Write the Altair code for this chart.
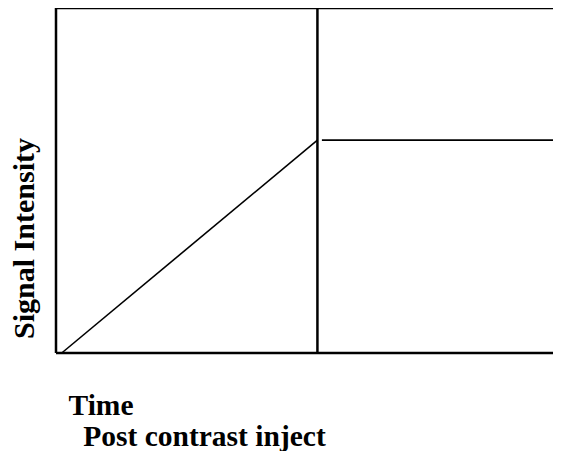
import altair as alt
import pandas as pd

# Data (arbitrary units: time 0-100, signal 0-100)
inject_time = 52.6
signal_start_time = [1.15, 53.5]
signal_end_time = [52.6, 100.0]
signal_start_value = [0.0, 61.7]
signal_end_value = [61.7, 61.7]
segment_names = ["uptake", "plateau"]

frame_x = [0.0, 0.0, 0.0, inject_time]
frame_x2 = [0.0, 100.0, 100.0, inject_time]
frame_y = [0.0, 100.0, 0.0, 0.0]
frame_y2 = [100.0, 100.0, 0.0, 100.0]

x_title = ["Time", "\u200b\u00a0\u00a0Post contrast inject"]
y_title = "Signal Intensity"

rows = []
for name, t0, t1, v0, v1 in zip(segment_names, signal_start_time, signal_end_time,
                                signal_start_value, signal_end_value):
    rows.append({"segment": name, "time": t0, "signal": v0})
    rows.append({"segment": name, "time": t1, "signal": v1})
signal_df = pd.DataFrame(rows)
frame_df = pd.DataFrame({"x": frame_x, "x2": frame_x2, "y": frame_y, "y2": frame_y2})

xs = alt.Scale(domain=[0, 100], nice=False, zero=False)
ys = alt.Scale(domain=[0, 100], nice=False, zero=False)

FONT = "Liberation Serif"

x_axis = alt.Axis(domain=False, ticks=False, labels=False, grid=False,
                  title=x_title, titleFont=FONT, titleFontSize=29.5, titleFontWeight="bold",
                  titleColor="black", titleAnchor="start", titleAlign="left",
                  titleBaseline="alphabetic", titleX=12, titleY=61, titleLineHeight=31)
y_axis = alt.Axis(domain=False, ticks=False, labels=False, grid=False,
                  title=y_title, titleFont=FONT, titleFontSize=30, titleFontWeight="bold",
                  titleColor="black", titleAngle=270, titleAlign="center",
                  titleBaseline="alphabetic", titleX=-23, titleY=230)

frame = alt.Chart(frame_df).mark_rule(color="black", strokeWidth=2.5).encode(
    x=alt.X("x:Q", scale=xs, axis=x_axis),
    x2="x2:Q",
    y=alt.Y("y:Q", scale=ys, axis=y_axis),
    y2="y2:Q",
)

signal = alt.Chart(signal_df).mark_line(color="black", strokeWidth=1.6).encode(
    x=alt.X("time:Q", scale=xs),
    y=alt.Y("signal:Q", scale=ys),
    detail="segment:N",
)

chart = alt.layer(frame, signal).properties(
    width=497, height=345,
    autosize=alt.AutoSizeParams(type="none"),
    padding={"left": 48, "top": 0, "right": 0, "bottom": 98},
).configure_view(stroke=None)

chart.save("out.html", embed_options={"renderer": "svg", "actions": False})
